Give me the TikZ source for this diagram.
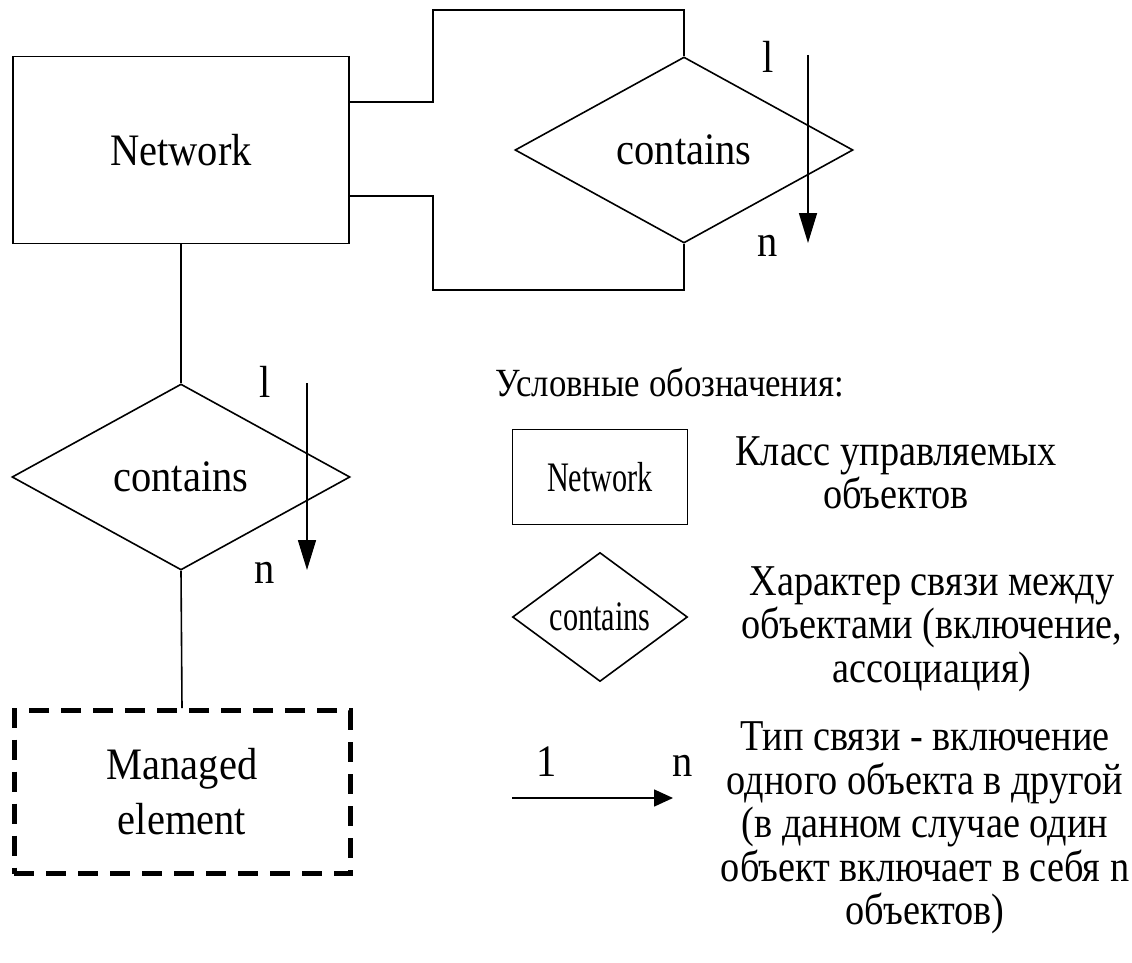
\documentclass[tikz,border=0pt]{standalone}
\usepackage{fontspec}
\setmainfont{Liberation Serif}[FakeStretch=0.9]
\newfontfamily\narrowfont{Liberation Serif}[FakeStretch=0.72]
\newfontfamily\legendfont{Liberation Serif}[FakeStretch=0.87]
\usetikzlibrary{shapes.geometric,arrows.meta}

\begin{document}
\begin{tikzpicture}[x=1pt,y=-1pt,line width=1.6pt,
    >={Triangle[length=30pt,width=18pt]},
    font=\fontsize{45}{55}\selectfont,
    entity/.style={draw,minimum width=336pt,minimum height=187pt,inner sep=0pt},
    relation/.style={draw,diamond,minimum width=338pt,minimum height=186pt,inner sep=0pt},
    legtext/.style={align=center,inner sep=0pt,font=\fontsize{44}{43.4}\selectfont\legendfont},
    legsym/.style={font=\fontsize{42}{50}\selectfont\narrowfont,inner sep=0pt}]
    \useasboundingbox (0,0) rectangle (1132,963);

    \node[entity] (net) at (181,150) {Network};
    \node[relation] (rel1) at (684,150) {contains};
    \node[relation] (rel2) at (181,477) {contains};
    \node[entity,minimum height=163pt,line width=5pt,dash pattern=on 20pt off 12pt] (elem) at (182,792) [align=center] {Managed\\element};

    \draw ([yshift=48pt]net.east) -| (433,10) -| (rel1.north);
    \draw ([yshift=-46pt]net.east) -| (433,290) -| (rel1.south);
    \draw (net.south) -- (rel2.north);
    \draw (rel2.south) -- (elem.north);

    % 1 : n arrows
    \coordinate (a1s) at (808,55);
    \coordinate (a1e) at (808,243);
    \coordinate (a2s) at (307,383);
    \coordinate (a2e) at (307,570);
    \draw[->] (a1s) -- (a1e);
    \draw[->] (a2s) -- (a2e);
    \foreach \name/\x/\y/\txt in {l1/768/57/l,n1/768/246/n,l2/265/382/l,n2/265/573/n}
    {
        \node[inner sep=0pt] (\name) at (\x,\y) {\txt};
    }

    % legend
    \node[anchor=west,inner sep=0pt,font=\fontsize{40}{44}\selectfont\legendfont] (legtitle) at (495,382) {Условные обозначения:};
    \node[legsym,draw,minimum width=175pt,minimum height=95pt] (legent) at (600,477) {Network};
    \node[legsym,draw,diamond,minimum width=175pt,minimum height=91pt] (legrel) at (600,617) {contains};
    \node[legtext] (entdesc) at (896,473) {Класс управляемых\\объектов};
    \node[legtext] (reldesc) at (932,629) {Характер связи между\\объектами (включение,\\ассоциация)};
    \coordinate (l3s) at (512,798);
    \coordinate (l3e) at (673,798);
    \draw[-{Triangle[length=19pt,width=17pt]}] (l3s) -- (l3e);
    \node[inner sep=0pt] (l3) at (547,762) {1};
    \node[inner sep=0pt] (n3) at (683,766) {n};
    \node[legtext] (typedesc) at (925,828) {Тип связи - включение\\одного объекта в другой\\(в данном случае один\\объект включает в себя n\\объектов)};
\end{tikzpicture}
\end{document}
